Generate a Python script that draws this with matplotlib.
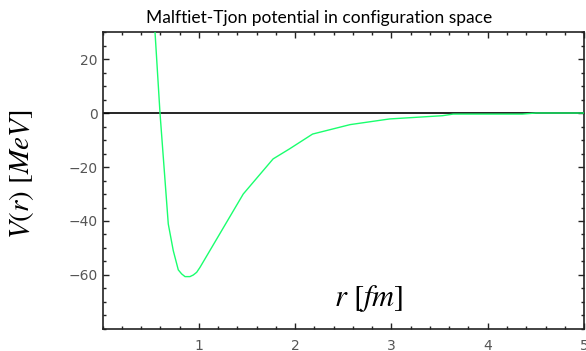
import matplotlib
matplotlib.use("Agg")
import matplotlib.pyplot as plt
from matplotlib.ticker import MultipleLocator

# values
r_fm = [0.50, 0.595, 0.681, 0.733, 0.785, 0.820, 0.855, 0.906, 0.941, 0.976,
        1.01, 1.46, 1.77, 1.94, 2.18, 2.57, 2.98, 3.53, 3.64, 4.36, 4.50, 5.00]
v_mev = [55.0, 0.0, -41.1, -51.0, -58.1, -59.6, -60.6, -60.6, -60.0, -59.0,
         -57.2, -30.0, -17.0, -13.3, -7.8, -4.3, -2.2, -1.0, -0.4, -0.4, 0.0, 0.0]

X_MAJOR = [1, 2, 3, 4, 5]
Y_MAJOR = [-60, -40, -20, 0, 20]

plt.rcParams["mathtext.fontset"] = "stix"

fig = plt.figure(figsize=(5.86, 3.51), dpi=100)
ax = fig.add_axes([0.1753, 0.0627, 0.8213, 0.8461])

ax.axhline(0, color="black", lw=1.2, zorder=2)
ax.plot(r_fm, v_mev, color="#1aff6e", lw=1.0, zorder=3)

ax.set_xlim(0, 5)
ax.set_ylim(-80, 30)
ax.set_xticks(X_MAJOR)
ax.set_yticks(Y_MAJOR)
ax.xaxis.set_minor_locator(MultipleLocator(0.2))
ax.yaxis.set_minor_locator(MultipleLocator(5))
ax.tick_params(which="both", direction="in", top=True, right=True,
               colors="#222222", labelcolor="#555555", labelsize=10)
ax.tick_params(which="major", length=4, width=1.0)
ax.tick_params(which="minor", length=2.2, width=1.0)
ax.tick_params(axis="x", pad=7)
for s in ax.spines.values():
    s.set_color("#222222")
    s.set_linewidth(1.2)

fig.text(319 / 586, 1 - 18 / 351, "Malftiet-Tjon potential in configuration space",
         ha="center", va="center", fontsize=12.5, family="Lato")
fig.text(22 / 586, 1 - 174 / 351, r"$V(r)\ [MeV]$", rotation=90,
         ha="center", va="center", fontsize=21)
fig.text(369 / 586, 1 - 299 / 351, r"$r\ [fm]$",
         ha="center", va="center", fontsize=22)

fig.savefig("out.png", dpi=100)
